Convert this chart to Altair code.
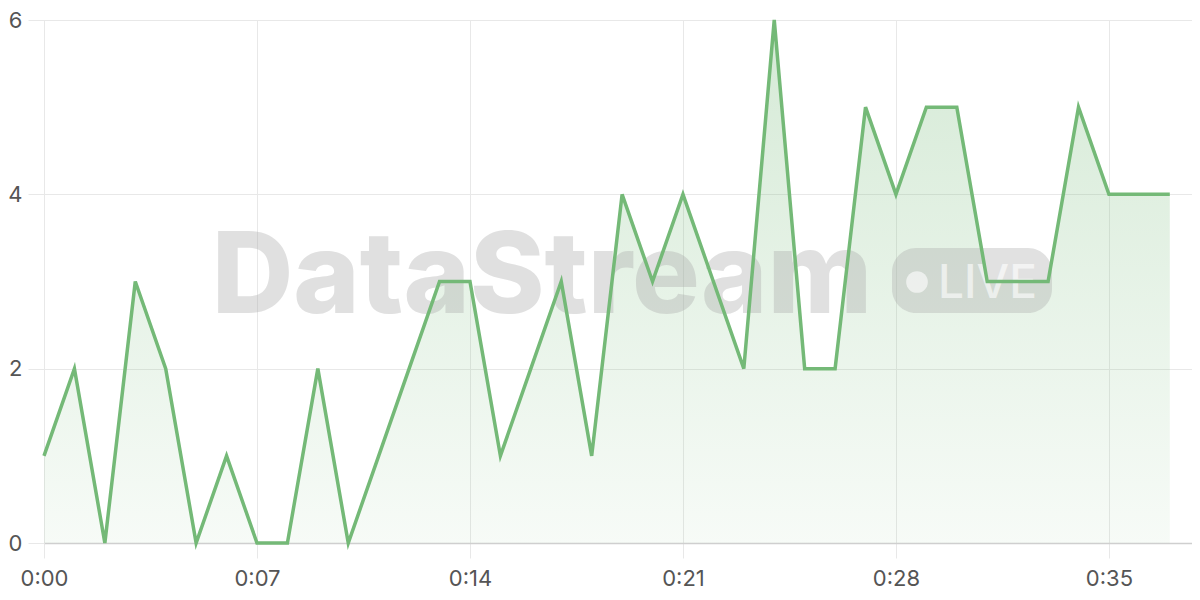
import altair as alt
import pandas as pd

seconds = list(range(38))
values = [1, 2, 0, 3, 2, 0, 1, 0, 0, 2, 0, 1, 2, 3, 3, 1, 2, 3, 1, 4,
          3, 4, 3, 2, 6, 2, 2, 5, 4, 5, 5, 3, 3, 3, 5, 4, 4, 4]
x_ticks = [0, 7, 14, 21, 28, 35]
y_ticks = [0, 2, 4, 6]

df = pd.DataFrame({"t": seconds, "v": values})

GREEN = "#74b977"
FONT = "Inter"

x_enc = alt.X(
    "t:Q",
    scale=alt.Scale(domain=[0, 37.73], nice=False, zero=False),
    axis=alt.Axis(
        values=x_ticks,
        labelExpr="floor(datum.value/60) + ':' + (datum.value % 60 < 10 ? '0' : '') + (datum.value % 60)",
        title=None,
        grid=True,
        gridColor="#e8e8e8",
        tickColor="#e8e8e8",
        tickSize=15,
        domainColor="#cfcfcf",
        domainWidth=1.5,
        labelFontSize=22,
        labelColor="#555555",
        labelFont=FONT,
        labelPadding=10,
        labelFlush=False,
    ),
)
y_enc = alt.Y(
    "v:Q",
    scale=alt.Scale(domain=[0, 6], nice=False),
    axis=alt.Axis(
        values=y_ticks,
        format="d",
        title=None,
        grid=True,
        gridColor="#e8e8e8",
        tickColor="#e8e8e8",
        tickSize=16,
        domain=False,
        labelFontSize=22,
        labelColor="#555555",
        labelFont=FONT,
        labelPadding=6,
    ),
)

base = alt.Chart(df)

area = base.mark_area(
    interpolate="linear",
    color=alt.Gradient(
        gradient="linear",
        x1=0, x2=0, y1=0, y2=1,
        stops=[
            alt.GradientStop(color="rgba(116,185,119,0.30)", offset=0),
            alt.GradientStop(color="rgba(116,185,119,0.06)", offset=1),
        ],
    ),
).encode(x=x_enc, y=y_enc)

line = base.mark_line(color=GREEN, strokeWidth=3.5, strokeJoin="miter").encode(x=x_enc, y=y_enc)

wm_df = pd.DataFrame({"label": ["DataStream"]})
wm_text = alt.Chart(wm_df).mark_text(
    font=FONT, fontSize=113, fontWeight=800, color="#a8a8a8", opacity=0.35,
    align="center", baseline="alphabetic",
).encode(x=alt.value(498), y=alt.value(293), text="label:N")

pill = alt.Chart(wm_df).mark_rect(
    color="#a8a8a8", opacity=0.35, cornerRadius=24,
).encode(x=alt.value(848), x2=alt.value(1008), y=alt.value(228), y2=alt.value(293))

dot = alt.Chart(wm_df).mark_point(
    filled=True, shape="circle", size=470, color="#ffffff", opacity=0.6,
).encode(x=alt.value(873), y=alt.value(262))

live_df = pd.DataFrame({"label": ["LIVE"]})
live = alt.Chart(live_df).mark_text(
    font=FONT, fontSize=46, fontWeight=500, color="#ffffff", opacity=0.6,
    align="left", baseline="alphabetic",
).encode(x=alt.value(894), y=alt.value(278), text="label:N")

chart = alt.layer(area, wm_text, pill, dot, live, line).properties(
    width=1148,
    height=523,
    autosize=alt.AutoSizeParams(type="none"),
    padding={"left": 36, "top": 12, "right": 0, "bottom": 54},
).configure_view(stroke=None).configure(background="#ffffff")

chart.save("out.html", embed_options={"renderer": "svg", "actions": False})
